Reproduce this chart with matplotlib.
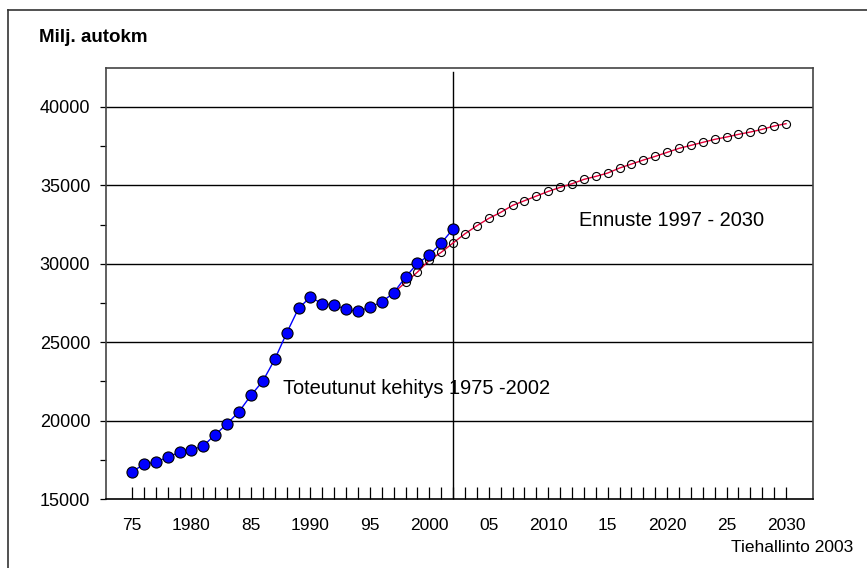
import matplotlib
matplotlib.use("Agg")
import matplotlib.pyplot as plt
from matplotlib.lines import Line2D

plt.rcParams['font.family'] = ['Liberation Sans', 'DejaVu Sans']

# Actual development 1975-2002
actual_years = list(range(1975, 2003))
actual_values = [16720, 17230, 17340, 17680, 17975, 18120, 18400, 19100, 19800, 20570,
                 21610, 22520, 23900, 25580, 27155, 27880, 27450, 27370, 27090, 26960,
                 27240, 27560, 28150, 29150, 30020, 30555, 31320, 32220]

# Forecast 1997-2030
forecast_years = list(range(1997, 2031))
forecast_values = [28150, 28810, 29470, 30230, 30730, 31330, 31915, 32426, 32894, 33277,
                   33723, 34021, 34319, 34617, 34872, 35106, 35383, 35574, 35787, 36106,
                   36362, 36617, 36851, 37106, 37362, 37553, 37745, 37936, 38085, 38255,
                   38404, 38574, 38787, 38936]

tick_years = list(range(1975, 2031))
tick_labels = {1975: "75", 1980: "1980", 1985: "85", 1990: "1990", 1995: "95",
               2000: "2000", 2005: "05", 2010: "2010", 2015: "15", 2020: "2020",
               2025: "25", 2030: "2030"}
y_major = [15000, 20000, 25000, 30000, 35000, 40000]
y_minor = [17500, 22500, 27500, 32500, 37500]

fig = plt.figure(figsize=(8.67, 5.68), dpi=100)
ax = fig.add_axes([106/867, 1 - 499/568, (813-106)/867, (499-68)/568])

ax.set_xlim(1972.81, 2032.27)
ax.set_ylim(15000, 42487)

for y in y_major[1:]:
    ax.axhline(y, color='black', lw=1.0, zorder=1)

ax.axvline(2002, ymin=0, ymax=(499-72)/(499-68), color='black', lw=1.0, zorder=1)

ax.plot(forecast_years, forecast_values, color='#e8003a', lw=1.0, zorder=2)
ax.plot(forecast_years, forecast_values, linestyle='none', marker='o', ms=5.8,
        mfc='none', mec='black', mew=0.8, zorder=3)
ax.plot(actual_years, actual_values, color='#0000ff', lw=1.0, marker='o', ms=8.0,
        mfc='#0000ff', mec='black', mew=0.8, zorder=4)

ax.set_xticks(tick_years)
ax.set_xticklabels([tick_labels.get(y, "") for y in tick_years])
ax.tick_params(axis='x', direction='in', length=8.6, width=0.9, pad=14,
               labelsize=12.5, colors='black')

ax.set_yticks(y_major)
ax.set_yticklabels([str(v) for v in y_major])
ax.set_yticks(y_minor, minor=True)
ax.tick_params(axis='y', which='both', direction='out', length=4.3, width=0.9, pad=7,
               labelsize=13)

for s in ax.spines.values():
    s.set_color('#444444')
    s.set_linewidth(1.2)
ax.spines['bottom'].set_color('black')

fig.text(39/867, 1 - 37/568, "Milj. autokm", fontsize=13.5, fontweight='bold',
         ha='left', va='center')
ax.text(1987.7, 22050, "Toteutunut kehitys 1975 -2002", fontsize=14.4,
        ha='left', va='center')
ax.text(2012.6, 32750, "Ennuste 1997 - 2030", fontsize=14.4, ha='left', va='center')
fig.text(853/867, 1 - 548/568, "Tiehallinto 2003", fontsize=12.5, ha='right', va='center')

# outer border (left and top edges visible)
fig.add_artist(Line2D([8/867, 8/867], [0, 1 - 10/568], transform=fig.transFigure,
                      color='#333333', lw=1.2))
fig.add_artist(Line2D([8/867, 1], [1 - 10/568, 1 - 10/568], transform=fig.transFigure,
                      color='#333333', lw=1.2))

fig.savefig("out.png", dpi=100)
